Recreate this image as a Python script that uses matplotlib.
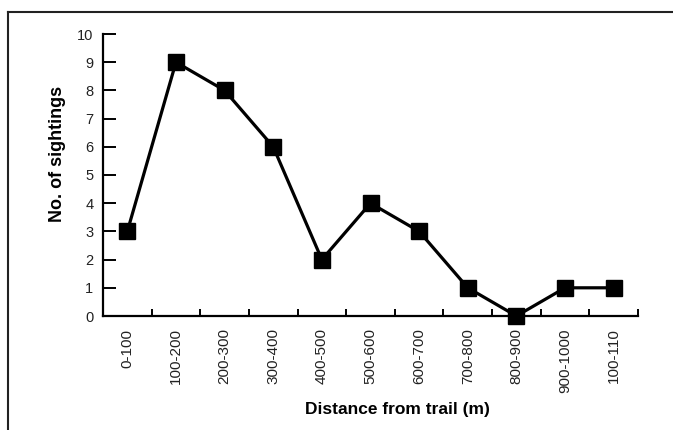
import matplotlib
matplotlib.use("Agg")
import matplotlib.pyplot as plt
from matplotlib.lines import Line2D

plt.rcParams['font.family'] = ['Liberation Sans', 'DejaVu Sans']

# data
categories = ["0-100", "100-200", "200-300", "300-400", "400-500", "500-600",
              "600-700", "700-800", "800-900", "900-1000", "100-110"]
sightings = [3, 9, 8, 6, 2, 4, 3, 1, 0, 1, 1]

fig = plt.figure(figsize=(6.73, 4.30), dpi=100)
ax = fig.add_axes([103/673, 1 - 316/430, 535/673, 282/430])

x = list(range(len(categories)))
ax.plot(x, sightings, color='black', linewidth=2.3, marker='s',
        markersize=11, clip_on=False, zorder=3)

ax.set_xlim(-0.5, len(categories) - 0.5)
ax.set_ylim(0, 10)
ax.set_yticks(range(0, 11))

# category labels at centres, ticks at the boundaries
ax.set_xticks([i + 0.5 for i in x])
ax.set_xticklabels([])
ax.set_xticks(x, minor=True)
ax.set_xticklabels(categories, minor=True, rotation=90, fontsize=11, color='#222222')
ax.tick_params(axis='x', which='minor', length=0, pad=9)
ax.tick_params(axis='x', which='major', direction='in', length=5, width=1.4)
ax.tick_params(axis='y', direction='in', length=9.5, width=1.4, labelsize=10.5,
               labelcolor='#222222', pad=7)

for s in ['top', 'right']:
    ax.spines[s].set_visible(False)
for s in ['left', 'bottom']:
    ax.spines[s].set_linewidth(1.6)

ax.set_xlabel("Distance from trail (m)", fontsize=12.5, fontweight='bold')
ax.set_ylabel("No. of sightings", fontsize=13, fontweight='bold')
ax.xaxis.set_label_coords(0.55, -0.305)
ax.yaxis.set_label_coords(-0.069, 0.574)

# frame around the figure (only top and left visible)
fig.add_artist(Line2D([8/673, 1], [1 - 12/430, 1 - 12/430], color='#222222', linewidth=1.5))
fig.add_artist(Line2D([8/673, 8/673], [0, 1 - 12/430], color='#222222', linewidth=1.5))

fig.savefig("out.png", dpi=100)
